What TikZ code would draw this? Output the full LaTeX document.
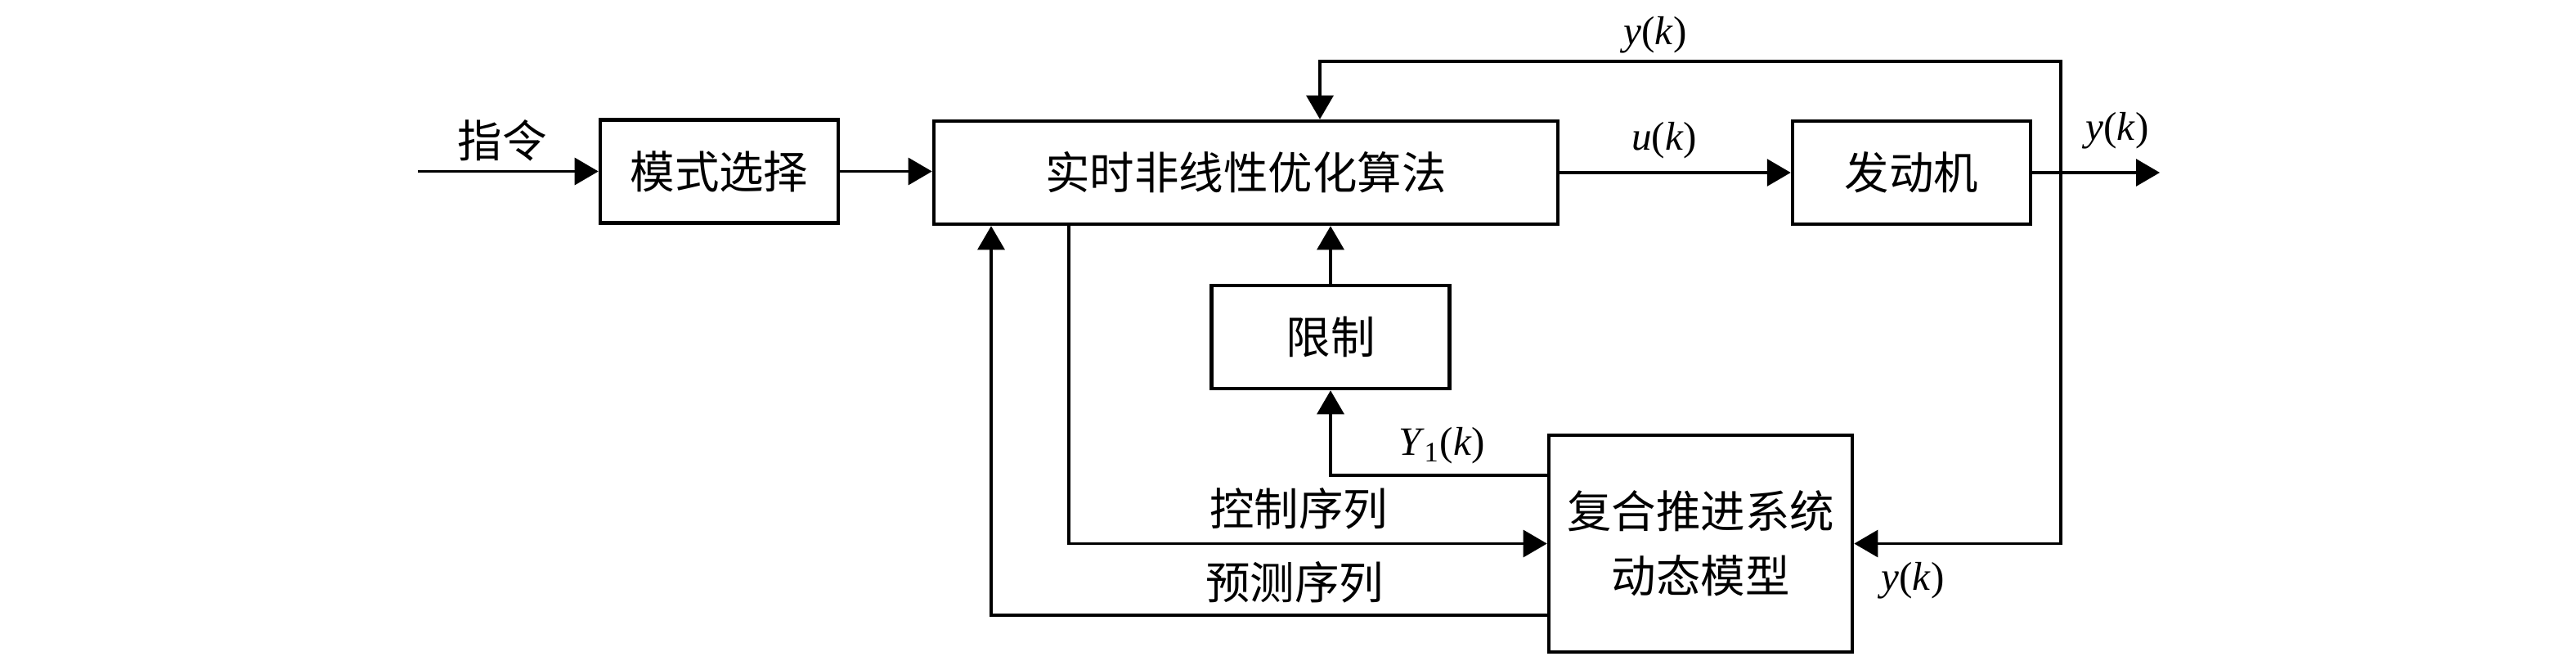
\documentclass[tikz,border=0pt]{standalone}
\usepackage{fontspec}
\setmainfont{Liberation Serif}
\newfontfamily\cjk{Noto Sans CJK SC}
\usetikzlibrary{arrows.meta}

\begin{document}
\begin{tikzpicture}[
    >={Triangle[length=0.29cm, width=0.33cm]},
    font=\cjk\fontsize{15.5}{22.5}\selectfont,
    box/.style={rectangle, draw=black, line width=1.3pt, inner sep=0pt},
    smallbox/.style={box, minimum width=2.91cm, minimum height=1.26cm},
    widebox/.style={box, minimum width=7.63cm, minimum height=1.26cm},
    modelbox/.style={box, minimum width=3.71cm, minimum height=2.65cm, align=center},
    sig/.style={line width=0.9pt},
    lbl/.style={font=\rmfamily\fontsize{14}{17}\selectfont, inner sep=0pt}
]
    \useasboundingbox (0,0) rectangle (31.5,8.07);

    % 1. Blocks
    \node[smallbox] (mode) at (8.795, 5.975) {模式选择};
    \node[widebox] (algo) at (15.235, 5.96) {实时非线性优化算法};
    \node[smallbox] (engine) at (23.375, 5.96) {发动机};
    \node[smallbox] (limit) at (16.27, 3.95) {限制};
    \node[modelbox] (model) at (20.795, 1.425) {复合推进系统\\动态模型};

    % 2. Command input and forward path
    \coordinate (cin) at (5.11, 5.975);
    \node (cmd) at (6.14, 6.35) {指令};
    \draw[sig, ->] (cin) -- (mode.west);
    \draw[sig, ->] (mode.east) -- (algo.west |- mode.east);
    \draw[sig, ->] (algo.east) -- (engine.west);
    \node[lbl] (uk) at (20.35, 6.35) {\textit{u}(\textit{k})};

    % 3. Output y(k) and its feedback
    \coordinate (yout) at (26.41, 5.96);
    \coordinate (ybr) at (25.20, 5.96);
    \coordinate (ytop) at (16.14, 7.32);
    \draw[sig, ->] (engine.east) -- (yout);
    \node[lbl] (ykout) at (25.89, 6.47) {\textit{y}(\textit{k})};
    \draw[sig, ->] (ybr) |- (ytop) -- (algo.north -| ytop);
    \node[lbl] (yktop) at (20.24, 7.64) {\textit{y}(\textit{k})};
    \draw[sig, ->] (ybr) |- (model.east);
    \node[lbl] (ykmod) at (23.39, 0.97) {\textit{y}(\textit{k})};

    % 4. Control sequence to the model
    \coordinate (ctrl) at (13.07, 1.425);
    \draw[sig, ->] (algo.south -| ctrl) |- (model.west);
    \node (ctrllbl) at (15.88, 1.85) {控制序列};

    % 5. Prediction sequence back to the algorithm
    \coordinate (pred) at (12.12, 0.55);
    \draw[sig, ->] (model.west |- pred) -| (algo.south -| pred);
    \node (predlbl) at (15.83, 0.95) {预测序列};

    % 6. Constraint path
    \coordinate (yone) at (16.27, 2.26);
    \draw[sig, ->] (model.west |- yone) -| (limit.south);
    \node[lbl] (y1k) at (17.63, 2.62) {\textit{Y}\textsubscript{1}(\textit{k})};
    \draw[sig, ->] (limit.north) -- (algo.south -| limit.north);

\end{tikzpicture}
\end{document}
